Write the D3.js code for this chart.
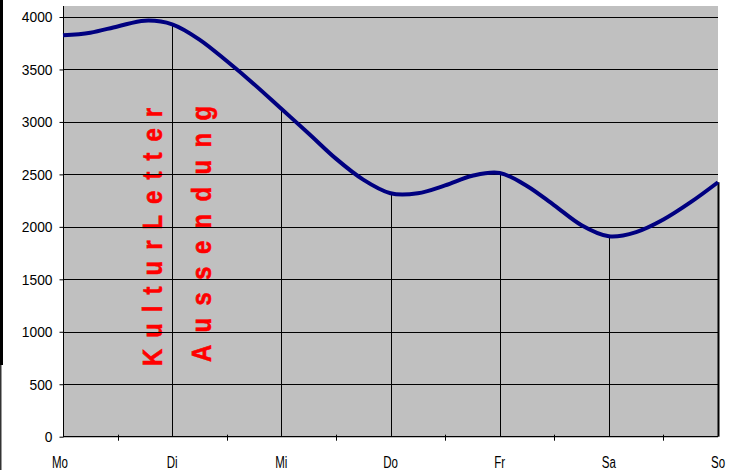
<!DOCTYPE html>
<html>
<head>
<meta charset="utf-8">
<script src="https://cdn.jsdelivr.net/npm/d3@7"></script>
<style>
  body { margin: 0; background: #fff; }
  svg { display: block; font-family: "Liberation Sans", Arial, sans-serif; }
</style>
</head>
<body>
<div id="chart"></div>
<script>
'use strict';

// categories (one label per day) and the six-hourly visitor series
const days = ["Mo", "Di", "Mi", "Do", "Fr", "Sa", "So"];
const yTicks = [0, 500, 1000, 1500, 2000, 2500, 3000, 3500, 4000];
const visits = [
    3825, 3850, 3910, 3965,   // Mo
    3930, 3785, 3580, 3360,   // Di
    3125, 2890, 2650, 2450,   // Mi
    2320, 2320, 2395, 2487,   // Do
    2514, 2390, 2205, 2015,   // Fr
    1910, 1950, 2070, 2235,   // Sa
    2425                      // So
];
const notes = ["KulturLetter", "Aussendung"];

const width = 734, height = 470;
const stepsPerDay = 4;

let svg = d3.select("#chart").append("svg")
    .attr("width", width)
    .attr("height", height);

// left dark border strip
svg.append("rect").attr("x", 0).attr("y", 0).attr("width", 3).attr("height", 365).attr("fill", "#000");
svg.append("rect").attr("x", 0).attr("y", 365).attr("width", 1.5).attr("height", 105).attr("fill", "#333");

let x = d3.scaleLinear()
    .domain([0, visits.length - 1])
    .range([63, 718]);

let y = d3.scaleLinear()
    .domain([0, 4000])
    .range([436.7, 17]);

// plot area
svg.append("rect")
    .attr("x", x(0))
    .attr("y", 6)
    .attr("width", x(visits.length - 1) - x(0))
    .attr("height", y(0) - 6)
    .attr("fill", "#c0c0c0");

// red annotation text, rotated
let noteX = [162, 211];
let noteY = [366, 362];
let noteLen = [258, 256];
let squeeze = 0.85;
svg.append("g")
    .selectAll("text")
    .data(notes)
    .enter().append("text")
    .attr("transform", (d, i) => "translate(" + noteX[i] + "," + noteY[i] + ") rotate(-90) scale(" + squeeze + ",1)")
    .attr("textLength", (d, i) => noteLen[i] / squeeze)
    .attr("lengthAdjust", "spacing")
    .style("font-size", "28px")
    .style("font-weight", "bold")
    .style("fill", "#ff0000")
    .style("stroke", "#ff0000")
    .style("stroke-width", 0.6)
    .text(d => d);

// horizontal gridlines
svg.append("g")
    .selectAll("line")
    .data(yTicks.filter(d => d > 0))
    .enter().append("line")
    .attr("x1", x(0))
    .attr("x2", x(visits.length - 1))
    .attr("y1", d => Math.round(y(d)) + 0.5)
    .attr("y2", d => Math.round(y(d)) + 0.5)
    .attr("stroke", "#000")
    .attr("stroke-width", 1);

// drop lines from the curve at each day
let dayIdx = days.map((d, i) => i * stepsPerDay);
svg.append("g")
    .selectAll("line")
    .data(dayIdx.slice(1))
    .enter().append("line")
    .attr("x1", d => Math.round(x(d)) + 0.5)
    .attr("x2", d => Math.round(x(d)) + 0.5)
    .attr("y1", d => y(visits[d]))
    .attr("y2", y(0))
    .attr("stroke", "#000")
    .attr("stroke-width", (d, i) => i === dayIdx.length - 2 ? 2 : 1);

// y axis
let yAxis = svg.append("g")
    .attr("transform", "translate(" + (x(0) + 0.5) + ",0)")
    .call(d3.axisLeft(y).tickValues(yTicks).tickFormat(d3.format("d"))
        .tickSize(4).tickSizeOuter(0).tickPadding(7));
yAxis.select(".domain").remove();
yAxis.append("line")
    .attr("x1", 0).attr("x2", 0)
    .attr("y1", 6).attr("y2", y(0))
    .attr("stroke", "#000");
yAxis.selectAll("text")
    .style("font-size", "15px")
    .style("font-family", "'Liberation Sans', Arial, sans-serif")
    .attr("fill", "#000")
    .each(function() {
        let w = this.getComputedTextLength();
        d3.select(this).attr("textLength", w * 0.92).attr("lengthAdjust", "spacingAndGlyphs");
    });
yAxis.selectAll(".tick line").attr("stroke", "#000");

// x axis: labels at days, small ticks between days
let xAxis = svg.append("g");
xAxis.append("line")
    .attr("x1", x(0)).attr("x2", x(visits.length - 1))
    .attr("y1", y(0)).attr("y2", y(0))
    .attr("stroke", "#000")
    .attr("stroke-width", 1.2);
xAxis.selectAll(".mid")
    .data(dayIdx.slice(0, -1).map(d => d + stepsPerDay / 2))
    .enter().append("line")
    .attr("class", "mid")
    .attr("x1", d => Math.round(x(d)) + 0.5)
    .attr("x2", d => Math.round(x(d)) + 0.5)
    .attr("y1", y(0) - 2)
    .attr("y2", y(0) + 4)
    .attr("stroke", "#000");
xAxis.selectAll("text")
    .data(days)
    .enter().append("text")
    .attr("x", (d, i) => x(dayIdx[i]) - (i === 0 ? 3 : 0))
    .attr("y", 468)
    .attr("text-anchor", "middle")
    .style("font-size", "16px")
    .text(d => d)
    .each(function() {
        let w = this.getComputedTextLength();
        d3.select(this).attr("textLength", w * 0.72).attr("lengthAdjust", "spacingAndGlyphs");
    });

// visitors curve
let line = d3.line()
    .x((d, i) => x(i))
    .y(d => y(d))
    .curve(d3.curveCatmullRom.alpha(0));

svg.append("path")
    .datum(visits)
    .attr("d", line)
    .attr("fill", "none")
    .attr("stroke", "#000080")
    .attr("stroke-width", 4)
    .attr("stroke-linejoin", "round");
</script>
</body>
</html>
